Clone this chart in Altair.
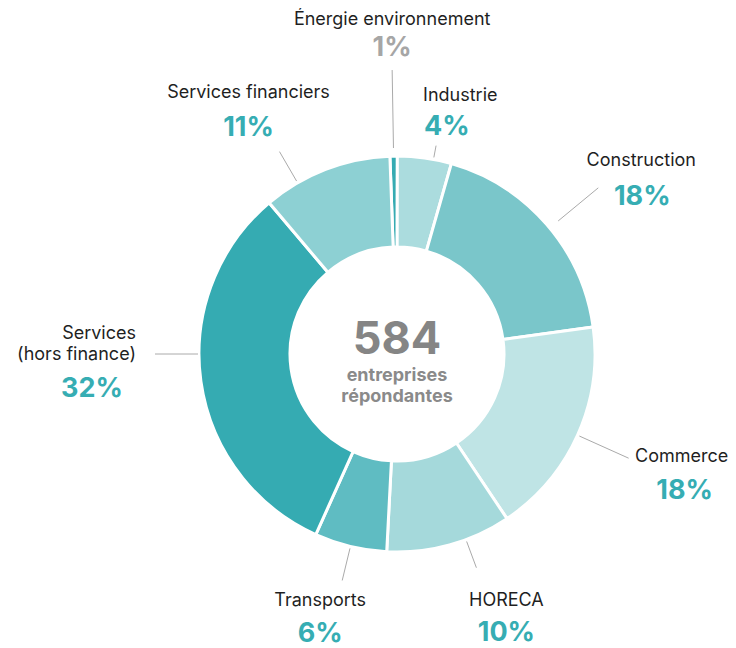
import math
import altair as alt
import pandas as pd

# ---- data ----
categories = ["Énergie environnement", "Industrie", "Construction", "Commerce",
              "HORECA", "Transports", "Services\n(hors finance)", "Services financiers"]
shares = [0.6, 4.4, 18.4, 17.8, 10.2, 5.9, 32.1, 10.6]
pct_labels = ["1%", "4%", "18%", "18%", "10%", "6%", "32%", "11%"]
colors = ["#35abb2", "#abdcde", "#7ac6ca", "#bfe4e5", "#a5d9db", "#5fbcc2", "#35abb2", "#8dd0d3"]
pct_colors = ["#a6a6a6"] + ["#36adb3"] * 7
total_label = "584"
total_sub = "entreprises\nrépondantes"

# ---- layout (style) ----
W, H = 720, 640
CX, CY = 389, 346
R_OUT, R_IN = 198, 107
START = math.radians(-2.06)
FONT = "Inter"
# leader line: angle nudge (deg), inner and outer radius
line_nudge = [0, 2.6, 1.4, 0, -5, 0, 8, -9]
line_r0 = [206, 200, 209, 200, 200, 200, 199, 200]
line_r1 = [284, 212, 261, 254, 228, 233, 242, 234]
# label offsets relative to leader-line outer end
name_off = [(0, -50), (-13, -50), (43, -27), (53, -1), (30, 33), (-22, 21), (-19, -20), (-31, -59)]
pct_off = [(0, -22), (-12, -19), (44, 9), (56, 33), (30, 65), (-22, 54), (-63, 35), (-31, -24)]
name_align = ["center", "left", "center", "center", "center", "center", "right", "center"]
pct_align = ["center", "left", "center", "center", "center", "center", "center", "center"]

rows = []
cum = 0.0
tot = sum(shares)
for i, (c, s) in enumerate(zip(categories, shares)):
    mid = START + (cum + s / 2) / tot * 2 * math.pi
    cum += s
    a = mid + math.radians(line_nudge[i])
    x0 = CX + line_r0[i] * math.sin(a)
    y0 = CY - line_r0[i] * math.cos(a)
    x1 = CX + line_r1[i] * math.sin(a)
    y1 = CY - line_r1[i] * math.cos(a)
    rows.append(dict(idx=i, cat=c, share=s, color=colors[i], pct=pct_labels[i],
                     pcolor=pct_colors[i], x0=x0, y0=y0, x1=x1, y1=y1,
                     nx=x1 + name_off[i][0], ny=y1 + name_off[i][1],
                     px=x1 + pct_off[i][0], py=y1 + pct_off[i][1],
                     nal=name_align[i], pal=pct_align[i]))
df = pd.DataFrame(rows)

base = alt.Chart(df)

donut = base.mark_arc(radius=R_OUT, radius2=R_IN, stroke="white", strokeWidth=3).encode(
    theta=alt.Theta("share:Q", stack=True,
                    scale=alt.Scale(range=[START, START + 2 * math.pi])),
    order=alt.Order("idx:Q"),
    color=alt.Color("color:N", scale=None),
    x=alt.value(CX), y=alt.value(CY),
)

leaders = base.mark_rule(color="#aaaaaa", strokeWidth=1).encode(
    x=alt.X("x0:Q", scale=None, axis=None), y=alt.Y("y0:Q", scale=None, axis=None),
    x2="x1:Q", y2="y1:Q",
)

def names(al):
    return base.transform_filter(alt.datum.nal == al).mark_text(
        font=FONT, fontSize=18, color="#1f1f1f", align=al, baseline="middle",
        lineBreak="\n", lineHeight=21,
    ).encode(x=alt.X("nx:Q", scale=None, axis=None), y=alt.Y("ny:Q", scale=None, axis=None),
             text="cat:N")

def pcts(al):
    return base.transform_filter(alt.datum.pal == al).mark_text(
        font=FONT, fontSize=27, fontWeight="bold", align=al, baseline="middle",
    ).encode(x=alt.X("px:Q", scale=None, axis=None), y=alt.Y("py:Q", scale=None, axis=None),
             text="pct:N", color=alt.Color("pcolor:N", scale=None))

center_big = alt.Chart(pd.DataFrame({"t": [total_label]})).mark_text(
    font=FONT, fontSize=45, fontWeight="bold", color="#858585", baseline="middle",
).encode(x=alt.value(CX), y=alt.value(CY - 14), text="t:N")

center_sub = alt.Chart(pd.DataFrame({"t": [total_sub]})).mark_text(
    font=FONT, fontSize=18, fontWeight="bold", color="#8a8a8a", baseline="middle",
    lineBreak="\n", lineHeight=21,
).encode(x=alt.value(CX), y=alt.value(CY + 22), text="t:N")

chart = alt.layer(
    donut, leaders,
    names("center"), names("left"), names("right"),
    pcts("center"), pcts("left"),
    center_big, center_sub,
).properties(width=W, height=H, padding=0, autosize=alt.AutoSizeParams(type="none")
).configure_view(stroke=None)

chart.save("out.html", embed_options={"renderer": "svg", "actions": False})
